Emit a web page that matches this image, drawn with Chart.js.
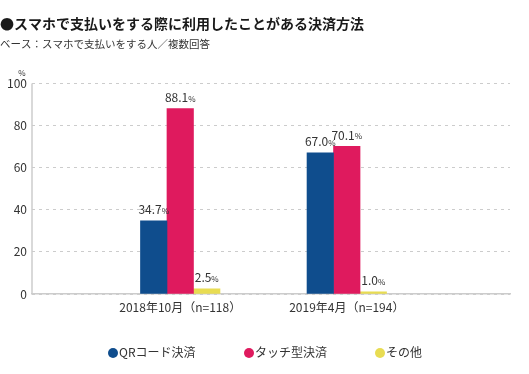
<!DOCTYPE html>
<html>
<head>
<meta charset="utf-8">
<script src="https://cdn.jsdelivr.net/npm/chart.js@4/dist/chart.umd.min.js"></script>
<style>
  body { margin: 0; background: #fff; }
  #wrap { position: relative; width: 529px; height: 374px; font-family: "Noto Sans CJK JP", sans-serif; }
  #legend { position: absolute; top: 343px; left: 0; width: 529px; height: 18px; font-size: 12px; color: #333; }
  #legend span.item { position: absolute; top: 0; line-height: 18px; white-space: nowrap; }
  #legend span.dot { display: inline-block; width: 10px; height: 10px; border-radius: 50%; vertical-align: -1px; margin-right: 1px; }
</style>
</head>
<body>
<div id="wrap">
  <canvas id="surveyChart" width="529" height="374"></canvas>
  <div id="legend"></div>
</div>
<script>
  // 調査時期
  var periods = ['2018年10月（n=118）', '2019年4月（n=194）'];
  // 決済方法ごとの割合（%）
  var seriesNames = ['QRコード決済', 'タッチ型決済', 'その他'];
  var qrValues = [34.7, 67.0];
  var touchValues = [88.1, 70.1];
  var otherValues = [2.5, 1.0];
  var yTicks = [0, 20, 40, 60, 80, 100];

  var colors = ['#0f4d8d', '#df1a5e', '#e8dc52'];
  var fontName = '"Noto Sans CJK JP", sans-serif';

  function toPoints(values) {
    return values.map(function (v, i) { return { x: i, y: v }; });
  }

  // 縦軸の線（実線）と棒の上の「34.7%」形式のラベル
  var valueLabels = {
    id: 'valueLabels',
    beforeDatasetsDraw: function (chart) {
      var a = chart.chartArea;
      var ctx = chart.ctx;
      ctx.save();
      ctx.strokeStyle = '#cccccc';
      ctx.lineWidth = 1.5;
      ctx.beginPath();
      ctx.moveTo(a.left, a.top);
      ctx.lineTo(a.left, a.bottom);
      ctx.stroke();
      ctx.restore();
    },
    afterDatasetsDraw: function (chart) {
      var ctx = chart.ctx;
      ctx.save();
      ctx.fillStyle = '#333';
      ctx.textBaseline = 'middle';
      chart.data.datasets.forEach(function (ds, di) {
        chart.getDatasetMeta(di).data.forEach(function (bar, i) {
          var num = ds.data[i].y.toFixed(1);
          ctx.font = '12px ' + fontName;
          var w1 = ctx.measureText(num).width;
          ctx.font = '8px ' + fontName;
          var w2 = ctx.measureText('%').width;
          var x = bar.x - (w1 + w2) / 2;
          var y = bar.y - 11;
          ctx.font = '12px ' + fontName;
          ctx.textAlign = 'left';
          ctx.fillText(num, x, y);
          ctx.font = '8px ' + fontName;
          ctx.fillText('%', x + w1, y + 1);
        });
      });
      // 縦軸の単位
      ctx.font = '8px ' + fontName;
      ctx.textAlign = 'center';
      ctx.fillText('%', 22, 73);
      ctx.restore();
    }
  };

  var ctx = document.getElementById('surveyChart').getContext('2d');
  var surveyChart = new Chart(ctx, {
    type: 'bar',
    data: {
      datasets: [
        { label: seriesNames[0], data: toPoints(qrValues), backgroundColor: colors[0] },
        { label: seriesNames[1], data: toPoints(touchValues), backgroundColor: colors[1] },
        { label: seriesNames[2], data: toPoints(otherValues), backgroundColor: colors[2] }
      ]
    },
    options: {
      responsive: false,
      animation: false,
      barThickness: 26.5,
      layout: { padding: { left: 0, right: 19, top: 0, bottom: 60 } },
      plugins: {
        legend: { display: false },
        tooltip: { enabled: false },
        title: {
          display: true,
          text: '●スマホで支払いをする際に利用したことがある決済方法',
          align: 'start',
          color: '#1a1a1a',
          font: { family: fontName, size: 14, weight: 'bold', lineHeight: 1.2 },
          padding: { top: 15, bottom: 6 }
        },
        subtitle: {
          display: true,
          text: 'ベース：スマホで支払いをする人／複数回答',
          align: 'start',
          color: '#333',
          font: { family: fontName, size: 10.5, lineHeight: 1.2 },
          padding: { top: 0, bottom: 33 }
        }
      },
      scales: {
        x: {
          type: 'linear',
          offset: false,
          min: -0.89,
          max: 1.98,
          afterBuildTicks: function (scale) {
            scale.ticks = periods.map(function (p, i) { return { value: i }; });
          },
          afterFit: function (scale) { scale.height = 20; },
          ticks: {
            padding: 6,
            color: '#333',
            maxRotation: 0,
            font: { family: fontName, size: 12 },
            callback: function (v) { return periods[v]; }
          },
          grid: { display: false, drawTicks: false },
          border: { color: '#cccccc', width: 1.5 }
        },
        y: {
          min: 0,
          max: 100,
          afterBuildTicks: function (scale) {
            scale.ticks = yTicks.map(function (t) { return { value: t }; });
          },
          afterFit: function (scale) { scale.width = 32; },
          ticks: {
            padding: 5,
            color: '#333',
            font: { family: fontName, size: 12 }
          },
          grid: { color: '#cccccc', drawTicks: false },
          border: { display: false, dash: [3, 4] }
        }
      }
    },
    plugins: [valueLabels]
  });

  // 凡例
  var legendLeft = [108, 244, 375];
  var legend = document.getElementById('legend');
  seriesNames.forEach(function (name, i) {
    var item = document.createElement('span');
    item.className = 'item';
    item.style.left = legendLeft[i] + 'px';
    item.innerHTML = '<span class="dot" style="background:' + colors[i] + '"></span>' + name;
    legend.appendChild(item);
  });
</script>
</body>
</html>
